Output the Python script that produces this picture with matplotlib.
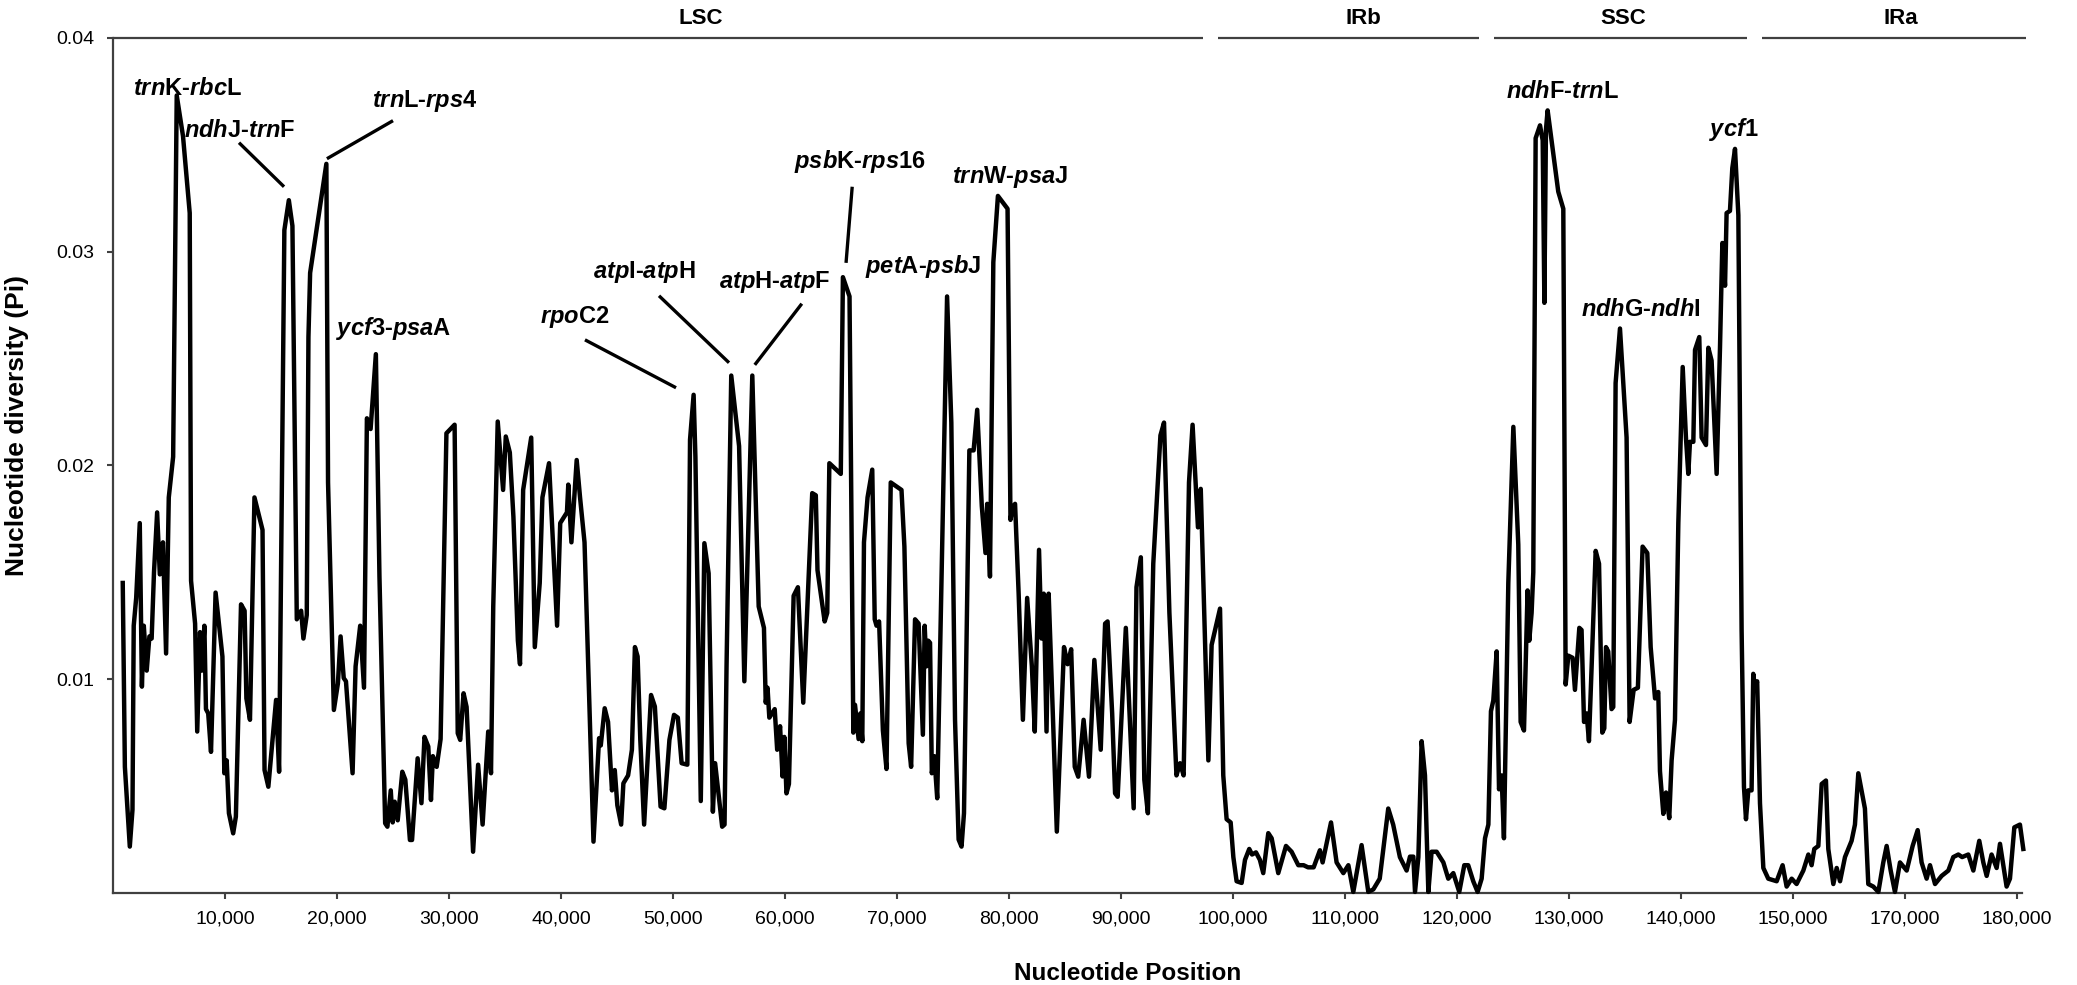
import matplotlib
matplotlib.use('Agg')
import matplotlib.pyplot as plt

plt.rcParams['font.family'] = ['Liberation Sans', 'DejaVu Sans']
plt.rcParams['mathtext.fontset'] = 'custom'
plt.rcParams['mathtext.it'] = 'Liberation Sans:italic:bold'
plt.rcParams['mathtext.rm'] = 'Liberation Sans:bold'
plt.rcParams['mathtext.bf'] = 'Liberation Sans:bold'

# ---------------- data: (window midpoint bp, nucleotide diversity Pi) ----------------
lsc = [
(870,0.0145),(1060,0.0059),(1500,0.00217),(1740,0.0039),(1850,0.0125),(2070,0.0138),(2390,0.0173),(2580,0.00965),(2750,0.0125),(3010,0.0104),(3250,0.012),(3450,0.0119),(3660,0.015),(3940,0.0178),(4180,0.0149),(4460,0.0164),(4740,0.0112),(4980,0.0185),(5370,0.0204),(5690,0.0373),(6250,0.0354),(6850,0.0318),(6970,0.0146),(7330,0.0126),(7520,0.00755),(7770,0.0122),(7930,0.0104),(8160,0.0125),(8300,0.0086),(8500,0.0084),(8750,0.0066),(9160,0.01405),(9770,0.01106),(9940,0.0056),(10150,0.0062),(10350,0.00373),(10730,0.00279),(10970,0.00357),(11430,0.0135),(11750,0.0132),(11910,0.0091),(12230,0.0081),(12630,0.0185),(13350,0.01698),(13530,0.00575),(13870,0.00497),(14560,0.00903),(14830,0.00567),(15300,0.031),(15700,0.0324),(16020,0.0312),(16410,0.0128),(16800,0.0132),(17000,0.0119),(17300,0.013),(17450,0.026),(17600,0.029),(19050,0.0341),(19200,0.0192),(19720,0.00856),(20080,0.0098),(20320,0.012),(20600,0.01005),(20800,0.0099),(21050,0.0081),(21390,0.0056),(21660,0.0106),(22070,0.0125),(22410,0.0096),(22670,0.0222),(23000,0.0217),(23470,0.0252),(23790,0.0148),(24300,0.00326),(24500,0.0031),(24800,0.0048),(24970,0.0033),(25150,0.00427),(25420,0.0034),(25830,0.00567),(26100,0.0053),(26510,0.00248),(26700,0.00248),(27200,0.0063),(27540,0.0042),(27810,0.0073),(28150,0.00685),(28390,0.00435),(28560,0.0064),(28900,0.0059),(29250,0.0072),(29770,0.0215),(30500,0.0219),(30780,0.00747),(31000,0.00716),(31300,0.00934),(31570,0.0087),(32150,0.00193),(32600,0.006),(33000,0.0032),(33500,0.00755),(33750,0.0056),(33950,0.0134),(34350,0.02205),(34830,0.01885),(35070,0.02135),(35430,0.0206),(35750,0.0176),(36150,0.0118),(36340,0.0107),(36620,0.01885),(37340,0.0213),(37660,0.0115),(38100,0.0145),(38340,0.0185),(38930,0.0201),(39650,0.0125),(39930,0.0173),(40530,0.0178),(40650,0.0191),(40930,0.0164),(41400,0.02025),(41700,0.0185),(42100,0.0164),(42900,0.0024),(43400,0.00724),(43550,0.0069),(43900,0.00864),(44200,0.008),(44550,0.0048),(44800,0.00575),(45030,0.0041),(45370,0.0032),(45570,0.00513),(45990,0.0055),(46330,0.0067),(46600,0.0115),(46840,0.01106),(47080,0.00716),(47420,0.0032),(48040,0.00926),(48380,0.00872),(48890,0.00404),(49230,0.00396),(49680,0.00716),(50090,0.00833),(50430,0.0082),(50770,0.00607),(51280,0.006),(51520,0.0212),(51840,0.0233),(52000,0.0204),(52480,0.0043),(52800,0.01636),(53180,0.01495),(53560,0.0038),(53760,0.00607),(54390,0.0031),(54600,0.0032),(54780,0.0106),(55200,0.0242),(55900,0.0209),(56370,0.0099),(57080,0.0242),(57650,0.0134),(58120,0.0124),(58280,0.0089),(58440,0.0096),(58600,0.0082),(59080,0.0086),(59300,0.0067),(59560,0.0078),(59780,0.00545),(59940,0.0073),(60130,0.00466),(60350,0.0051),(60770,0.0139),(61150,0.0143),(61630,0.0089),(62430,0.0187),(62750,0.0186),(62900,0.0151),(63540,0.0127),(63770,0.0131),(63960,0.0201),(64980,0.0196),(65170,0.0288),(65760,0.0279),(66100,0.0075),(66250,0.0088),(66570,0.0072),(66730,0.0084),(66900,0.0071),(67050,0.0164),(67370,0.0185),(67790,0.0198),(68010,0.0128),(68170,0.0125),(68400,0.0127),(68740,0.0076),(69060,0.0058),(69440,0.0192),(70400,0.01885),(70660,0.0162),(71040,0.007),(71260,0.0059),(71610,0.0128),(71930,0.0126),(72310,0.0074),(72470,0.0125),(72630,0.0106),(72790,0.0118),(72950,0.0117),(73110,0.0056),(73330,0.0064),(73590,0.00443),(74470,0.0279),(74850,0.022),(75180,0.0081),(75500,0.0025),(75760,0.00217),(75980,0.00373),(76460,0.0207),(76840,0.0207),(77160,0.0226),(77570,0.0181),(77900,0.0159),(78050,0.0182),(78300,0.0148),(78600,0.0295),(79010,0.0326),(79870,0.032),(80130,0.01745),(80300,0.018),(80540,0.0182),(80860,0.014),(81240,0.0081),(81620,0.0138),(82040,0.0106),(82300,0.00755),(82680,0.01605),(82900,0.0119),(83100,0.014),(83350,0.00755),(83540,0.014),(83800,0.0101),(84270,0.00287),(84910,0.0115),(85230,0.0107),(85550,0.0114),(85870,0.0059),(86180,0.00544),(86660,0.0081),(87140,0.00544),(87620,0.0109),(88190,0.0067),(88580,0.0126),(88800,0.0127),(89210,0.0084),(89470,0.00466),(89700,0.0045),(90430,0.0124),(91130,0.00396),(91380,0.0143),(91770,0.0157),(92080,0.0053),(92400,0.00373),(92880,0.0154),(93520,0.0214),(93840,0.022),(94320,0.0131),(94950,0.0055),(95270,0.00607),(95590,0.0055),(96070,0.0192),(96390,0.0219),(96870,0.0171),(97120,0.0189),(97800,0.0062),(98090,0.0116),(98840,0.0133)
]
irb = [
(99130,0.0055),(99430,0.00345),(99790,0.0033),(100030,0.00168),(100320,0.00055),(100770,0.00047),(101070,0.00155),(101450,0.00206),(101700,0.0018),(102050,0.0019),(102400,0.00155),(102700,0.00093),(103150,0.0028),(103450,0.00256),(104040,0.00093),(104730,0.0022),(105230,0.00193),(105830,0.0013),(106300,0.0013),(106700,0.0012),(107200,0.0012),(107760,0.002),(108000,0.00143),(108750,0.0033),(109250,0.00143),(109850,0.00093),(110300,0.0013),(110740,0.00005),(111480,0.00224),(112080,0.00005),(112530,0.00017),(113100,0.00067),(113860,0.00395),(114300,0.0032),(114900,0.00168),(115500,0.00105),(115800,0.0017),(116100,0.0017),(116250,0.00005),(116550,0.00168),(116840,0.0071),(117140,0.0055),(117440,0.00005),(117730,0.00193),(118180,0.00193),(118780,0.00143),(119220,0.00067),(119670,0.00093),(120200,0.00005),(120650,0.0013),(121000,0.0013),(121450,0.00055),(121840,0.00005),(122200,0.00067),(122500,0.00256),(122800,0.0032)
]
ssc = [
(123030,0.0085),(123240,0.009),(123540,0.0113),(123750,0.00485),(123980,0.0055),(124190,0.00256),(124580,0.0145),(125030,0.0218),(125470,0.0163),(125680,0.008),(125980,0.0076),(126300,0.01415),(126450,0.0118),(126660,0.0131),(126810,0.015),(127020,0.0353),(127410,0.0359),(127650,0.0352),(127800,0.0276),(127940,0.0357),(128090,0.0366),(129040,0.0328),(129490,0.032),(129700,0.00975),(129940,0.0111),(130320,0.011),(130530,0.0095),(130920,0.0124),(131120,0.0123),(131340,0.008),(131570,0.0084),(131780,0.0071),(132020,0.0106),(132380,0.016),(132680,0.0154),(132970,0.0075),(133150,0.0077),(133300,0.0115),(133500,0.0113),(133800,0.0086),(133950,0.0087),(134160,0.02385),(134550,0.0264),(135140,0.0213),(135410,0.008),(135770,0.0095),(136150,0.0096),(136570,0.0162),(136990,0.0159),(137290,0.0115),(137680,0.0091),(137970,0.0094),(138120,0.0057),(138420,0.0037),(138660,0.0047),(138950,0.0035),(139160,0.0062),(139460,0.0081),(139760,0.0173),(140150,0.0246),(140440,0.0213),(140650,0.0196),(140800,0.0211),(141100,0.0211),(141250,0.0254),(141630,0.026),(141840,0.0213),(142230,0.02095),(142440,0.0255),(142730,0.0249),(143180,0.0196),(143480,0.0255),(143690,0.0304),(143930,0.0284),(144070,0.0318),(144370,0.0319),(144580,0.0339),(144820,0.0348),(145120,0.0317),(145410,0.0123),(145620,0.00496),(145800,0.00345),(146010,0.0048),(146300,0.0048),(146450,0.01025),(146600,0.0096),(146800,0.0099)
]
ira = [
(147050,0.0042),(147350,0.00117),(147790,0.00067),(148540,0.00055),(149070,0.0013),(149430,0.0003),(149880,0.00067),(150320,0.00042),(150920,0.00105),(151370,0.0018),(151660,0.0013),(151900,0.00206),(152260,0.0022),(152560,0.0051),(152940,0.00526),(153150,0.00206),(153600,0.00042),(153900,0.00117),(154200,0.00055),(154640,0.00168),(155230,0.00244),(155530,0.0032),(155830,0.0056),(156420,0.00395),(156720,0.00042),(157170,0.0003),(157620,0.00005),(158060,0.00143),(158360,0.0022),(158720,0.00105),(159100,0.00005),(159550,0.00143),(160150,0.00105),(160680,0.0022),(161130,0.00294),(161480,0.00143),(161930,0.00067),(162230,0.0013),(162680,0.00042),(163270,0.0008),(163870,0.00105),(164310,0.00168),(164760,0.0018),(165100,0.00168),(165650,0.0018),(166100,0.00105),(166630,0.00244),(166990,0.00143),(167290,0.0008),(167730,0.0018),(168180,0.00117),(168480,0.0023),(168770,0.0013),(169070,0.0003),(169370,0.00067),(169760,0.00307),(170260,0.0032),(170560,0.00206)
]

x_ticks = [10000 * k for k in range(1, 18)]
x_tick_labels = ["10,000", "20,000", "30,000", "40,000", "50,000", "60,000", "70,000",
                 "80,000", "90,000", "100,000", "110,000", "120,000", "130,000",
                 "140,000", "150,000", "170,000", "180,000"]
y_ticks = [0.01, 0.02, 0.03, 0.04]
y_tick_labels = ["0.01", "0.02", "0.03", "0.04"]

region_names = ["LSC", "IRb", "SSC", "IRa"]
region_spans = [(0, 97300), (98660, 121960), (123300, 145900), (147230, 170800)]
region_label_x = [52500, 111600, 134800, 159600]

hotspot_labels = [
    r"$\mathit{trn}$K-$\mathit{rbc}$L", r"$\mathit{ndh}$J-$\mathit{trn}$F",
    r"$\mathit{trn}$L-$\mathit{rps}$4", r"$\mathit{ycf}$3-$\mathit{psa}$A",
    r"$\mathit{rpo}$C2", r"$\mathit{atp}$I-$\mathit{atp}$H",
    r"$\mathit{atp}$H-$\mathit{atp}$F", r"$\mathit{psb}$K-$\mathit{rps}$16",
    r"$\mathit{pet}$A-$\mathit{psb}$J", r"$\mathit{trn}$W-$\mathit{psa}$J",
    r"$\mathit{ndh}$F-$\mathit{trn}$L", r"$\mathit{ndh}$G-$\mathit{ndh}$I",
    r"$\mathit{ycf}$1",
]
hotspot_text_xy = [
    (6610, 0.03733), (11340, 0.03537), (27860, 0.03677), (25090, 0.0261),
    (41250, 0.02667), (47410, 0.02877), (59100, 0.0283), (66700, 0.0339),
    (72300, 0.0290), (80100, 0.0332), (129400, 0.0372), (136400, 0.0270),
    (144700, 0.0354),
]
leader_lines = [
    ((11250, 0.03509), (15270, 0.03303)),
    ((25000, 0.03612), (19100, 0.03434)),
    ((42140, 0.02587), (50270, 0.02363)),
    ((48750, 0.02793), (55000, 0.02480)),
    ((61500, 0.02756), (57300, 0.02470)),
    ((66000, 0.03303), (65450, 0.02947)),
]

# ---------------- figure ----------------
W, H = 2077, 985
fig = plt.figure(figsize=(W / 100, H / 100), dpi=100)
ax = fig.add_axes([113 / W, (H - 893) / H, (2021.5 - 113) / W, (893 - 37.7) / H])

pts = lsc + irb + ssc + ira
xs = [p[0] for p in pts]
ys = [p[1] for p in pts]
ax.plot(xs, ys, color="black", lw=3.2, solid_joinstyle="round", clip_on=False, zorder=3)

ax.set_xlim(0, 170400)
ax.set_ylim(0, 0.04)
ax.set_xticks(x_ticks)
ax.set_xticklabels(x_tick_labels)
ax.set_yticks(y_ticks)
ax.set_yticklabels(y_tick_labels)

axis_col = "#404040"
for s in ("top", "right"):
    ax.spines[s].set_visible(False)
for s in ("left", "bottom"):
    ax.spines[s].set_color(axis_col)
    ax.spines[s].set_linewidth(1.6)
ax.tick_params(axis="both", direction="out", length=4, width=1.5, color=axis_col,
               labelsize=14, labelcolor="black")
ax.tick_params(axis="x", pad=8.5)
ax.tick_params(axis="y", pad=9.5)

# region bars and names
for (a, b), name, lx in zip(region_spans, region_names, region_label_x):
    ax.plot([a, b], [0.04, 0.04], color=axis_col, lw=1.6, clip_on=False,
            solid_capstyle="butt")
    ax.text(lx, 0.04066, name, ha="center", va="baseline", fontsize=16,
            fontweight="bold")

# hotspot labels
for lab, (tx, ty) in zip(hotspot_labels, hotspot_text_xy):
    ax.text(tx, ty, lab, ha="center", va="baseline", fontsize=17,
            fontweight="bold", zorder=4)
for (p0, p1) in leader_lines:
    ax.plot([p0[0], p1[0]], [p0[1], p1[1]], color="black", lw=2.4,
            solid_capstyle="butt", zorder=4)

fig.text(17 / W, 1 - 425 / H, "Nucleotide diversity (Pi)", rotation=90,
         ha="center", va="center", fontsize=19, fontweight="bold")
fig.text(1128 / W, 5 / H, "Nucleotide Position", ha="center", va="baseline",
         fontsize=17.5, fontweight="bold")

fig.savefig("out.png", dpi=100)
